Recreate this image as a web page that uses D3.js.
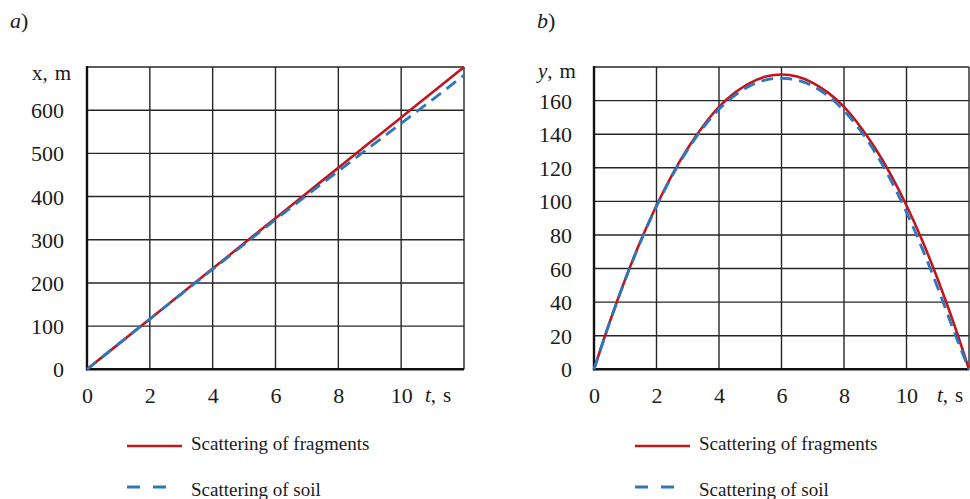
<!DOCTYPE html>
<html>
<head>
<meta charset="utf-8">
<script src="https://cdn.jsdelivr.net/npm/d3@7"></script>
<style>
  body { margin: 0; background: #fff; }
  svg text { font-family: "Liberation Serif", "Times New Roman", serif; fill: #1a1a1a; }
</style>
</head>
<body>
<div id="chart"></div>
<script>
// time in seconds
const tWhole = [0, 1, 2, 3, 4, 5, 6, 7, 8, 9, 10, 11, 12];
const tHalf = [0, 0.5, 1, 1.5, 2, 2.5, 3, 3.5, 4, 4.5, 5, 5.5, 6, 6.5, 7, 7.5, 8, 8.5, 9, 9.5, 10, 10.5, 11, 11.5, 12];

// panel a: horizontal distance x, m
const fragX = [0, 58.3, 116.7, 175, 233.3, 291.7, 350, 408.3, 466.7, 525, 583.3, 641.7, 700];
const soilX = [0, 58.2, 116.3, 174.2, 231.8, 289.2, 346.5, 403, 459, 514.5, 569.5, 624.5, 681];

// panel b: height y, m
const fragY = [0, 28, 53.6, 76.8, 97.5, 115.8, 131.6, 145, 156.2, 164.6, 170.6, 174.3, 175.5,
               174.3, 170.6, 164.6, 156.2, 145, 131.6, 115.8, 97.5, 76.8, 53.6, 28, 0];
const soilY = [0, 27.8, 53.3, 76.4, 97, 115.2, 130.8, 144, 154.8, 163, 168.9, 172.3, 173.3,
               172.2, 168.7, 162.6, 154, 142.8, 129, 112.5, 93.5, 72, 48.5, 23.5, 0];

const tLabels = [0, 2, 4, 6, 8, 10];
const tGrid = [0, 2, 4, 6, 8, 10, 12];
const xLabels = [0, 100, 200, 300, 400, 500, 600];
const xGrid = [0, 100, 200, 300, 400, 500, 600, 700];
const yLabels = [0, 20, 40, 60, 80, 100, 120, 140, 160];
const yGrid = [0, 20, 40, 60, 80, 100, 120, 140, 160, 180];

const legendNames = ["Scattering of fragments", "Scattering of soil"];

let w = 970,
    h = 499;

let red = "#c0161e",
    blue = "#2b78bf";

let svg = d3.select("#chart")
            .append("svg")
            .attr("width", w)
            .attr("height", h);

// draws one panel, left/right/top/bottom are pixel edges of the grid box
let drawPanel = (opts) => {

  let x = d3.scaleLinear().domain([0, 12]).range([opts.left, opts.right]);
  let y = d3.scaleLinear().domain([0, opts.ymax]).range([opts.bottom, opts.top]);

  let g = svg.append("g");

  // grid
  g.selectAll(".vgrid")
    .data(tGrid)
    .enter()
    .append("line")
    .attr("x1", d => x(d)).attr("x2", d => x(d))
    .attr("y1", opts.top).attr("y2", opts.bottom)
    .attr("stroke", "#262626")
    .attr("stroke-width", 1.4);

  g.selectAll(".hgrid")
    .data(opts.yGrid)
    .enter()
    .append("line")
    .attr("x1", opts.left).attr("x2", opts.right)
    .attr("y1", d => y(d)).attr("y2", d => y(d))
    .attr("stroke", "#262626")
    .attr("stroke-width", 1.4);

  // main axes, a bit heavier
  g.append("line")
    .attr("x1", opts.left).attr("x2", opts.left)
    .attr("y1", opts.top - 1).attr("y2", opts.bottom + 1)
    .attr("stroke", "#111").attr("stroke-width", 2.4);
  g.append("line")
    .attr("x1", opts.left - 1).attr("x2", opts.right)
    .attr("y1", opts.bottom).attr("y2", opts.bottom)
    .attr("stroke", "#111").attr("stroke-width", 2.4);

  // tick labels through axes
  let xAxis = g.append("g")
    .attr("transform", `translate(0, ${opts.bottom})`)
    .call(d3.axisBottom(x).tickValues(tLabels).tickSize(0).tickPadding(18));
  xAxis.select(".domain").remove();
  xAxis.selectAll("text")
    .style("font-size", "22px")
    .style("font-family", "Liberation Serif")
    .attr("fill", "#1a1a1a");

  let yAxis = g.append("g")
    .attr("transform", `translate(${opts.labelX}, 0)`)
    .call(d3.axisLeft(y).tickValues(opts.yLabels).tickSize(0).tickPadding(0));
  yAxis.select(".domain").remove();
  yAxis.selectAll("text")
    .attr("dy", "0.34em")
    .style("font-size", "22px")
    .style("font-family", "Liberation Serif")
    .attr("fill", "#1a1a1a");

  // axis titles
  let yt = g.append("text")
    .attr("x", opts.yTitleX)
    .attr("y", opts.yTitleY)
    .style("font-size", "21px");
  yt.append("tspan").style("font-style", opts.yItalic ? "italic" : "normal").text(opts.yName);
  yt.append("tspan").text(",");
  yt.append("tspan").attr("dx", 7).text("m");

  let tt = g.append("text")
    .attr("x", opts.tTitleX)
    .attr("y", 402)
    .style("font-size", "21px");
  tt.append("tspan").style("font-style", "italic").text("t");
  tt.append("tspan").text(",");
  tt.append("tspan").attr("dx", 7).text("s");

  // curves
  let line = d3.line()
    .x(d => x(d[0]))
    .y(d => y(d[1]))
    .curve(d3.curveMonotoneX);

  g.append("path")
    .datum(opts.t.map((t, i) => [t, opts.frag[i]]))
    .attr("d", line)
    .attr("fill", "none")
    .attr("stroke", red)
    .attr("stroke-width", 2.6);

  g.append("path")
    .datum(opts.t.map((t, i) => [t, opts.soil[i]]))
    .attr("d", line)
    .attr("fill", "none")
    .attr("stroke", blue)
    .attr("stroke-width", 2.8)
    .attr("stroke-dasharray", "12,7");

  // panel letter
  let lt = svg.append("text")
    .attr("x", opts.letterX)
    .attr("y", 28)
    .style("font-size", "22px");
  lt.append("tspan").style("font-style", "italic").text(opts.letter);
  lt.append("tspan").text(")");

  // legend
  let leg = svg.append("g");
  leg.append("line")
    .attr("x1", opts.legX).attr("x2", opts.legX + 55)
    .attr("y1", 446).attr("y2", 446)
    .attr("stroke", red).attr("stroke-width", 2.6);
  leg.append("line")
    .attr("x1", opts.legX).attr("x2", opts.legX + 40)
    .attr("y1", 487).attr("y2", 487)
    .attr("stroke", blue).attr("stroke-width", 2.8)
    .attr("stroke-dasharray", "13,13");

  leg.selectAll(".legtext")
    .data(legendNames)
    .enter()
    .append("text")
    .attr("x", opts.legX + 64)
    .attr("y", (d, i) => 450 + i * 46)
    .style("font-size", "19px")
    .text(d => d);
};

drawPanel({
  left: 87, right: 464, top: 67, bottom: 369.3,
  ymax: 700, yGrid: xGrid, yLabels: xLabels, labelX: 64,
  yName: "x", yItalic: false, yTitleX: 32, yTitleY: 80,
  tTitleX: 425,
  t: tWhole, frag: fragX, soil: soilX,
  letter: "a", letterX: 10,
  legX: 127
});

drawPanel({
  left: 594, right: 969, top: 67, bottom: 369.3,
  ymax: 180, yGrid: yGrid, yLabels: yLabels, labelX: 572,
  yName: "y", yItalic: true, yTitleX: 538, yTitleY: 78,
  tTitleX: 937,
  t: tHalf, frag: fragY, soil: soilY,
  letter: "b", letterX: 537,
  legX: 635
});
</script>
</body>
</html>
